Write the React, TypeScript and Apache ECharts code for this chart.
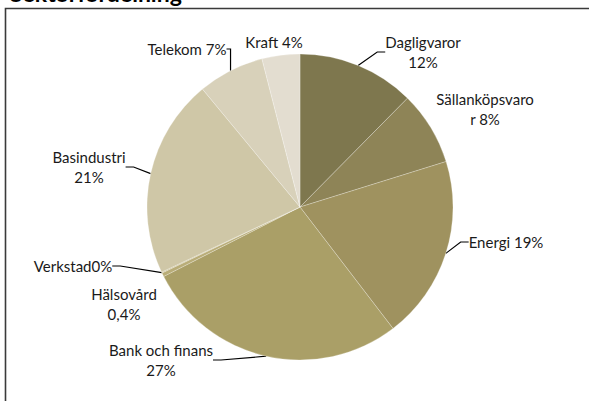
import React, { useEffect, useRef } from "react";
import * as echarts from "echarts";

const categories = ["Dagligvaror", "Sällanköpsvaror", "Energi", "Bank och finans", "Hälsovård", "Verkstad", "Basindustri", "Telekom", "Kraft"];
const values = [12.4, 7.8, 19.4, 27.9, 0.4, 0.1, 21.0, 7.0, 4.0];
const labelTexts = ["Dagligvaror\n12%", "Sällanköpsvaro\nr 8%", "Energi 19%", "Bank och finans\n27%", "Hälsovård\n0,4%", "Verkstad0%", "Basindustri\n21%", "Telekom 7%", "Kraft 4%"];
const title = "Sektorfördelning";

// styling / layout (not data)
const colors = ["#7e774e", "#8e8457", "#9f925f", "#aa9f67", "#b9ad78", "#c4b98a", "#cfc7a7", "#d8d1ba", "#e3ddd0"];
const showLine = [true, false, true, true, false, true, true, true, false];
const labelCenters: [number, number][] = [
  [423, 52], [485, 109], [506, 242], [161, 360], [124, 304], [73, 266], [89, 167], [187, 49], [274, 42],
];

export default function App() {
  const ref = useRef<HTMLDivElement>(null);
  useEffect(() => {
    if (!ref.current) return;
    const chart = echarts.init(ref.current, null, { renderer: "svg" });
    chart.setOption({
      animation: false,
      backgroundColor: "#ffffff",
      graphic: [
        {
          type: "rect",
          shape: { x: 5.5, y: 8.5, width: 620, height: 430 },
          style: { fill: "none", stroke: "#3a3a3a", lineWidth: 1.6 },
          silent: true,
        },
        {
          type: "text",
          x: 10,
          y: -19,
          style: { text: title, font: "bold 23px Lato, 'Open Sans', sans-serif", fill: "#000" },
        },
      ],
      series: [
        {
          type: "pie",
          center: [300, 207],
          radius: 153,
          startAngle: 90,
          clockwise: true,
          avoidLabelOverlap: false,
          minShowLabelAngle: 0,
          itemStyle: { borderColor: "rgba(255,255,255,0.5)", borderWidth: 0.5 },
          label: {
            show: true,
            position: "outside",
            fontFamily: "Lato, 'Open Sans', sans-serif",
            fontSize: 15,
            color: "#1a1a1a",
            lineHeight: 20,
            align: "center",
          },
          labelLine: { show: true, length: 14, length2: 8, lineStyle: { color: "#000", width: 1.2 } },
          labelLayout: (p: any) => {
            const c = labelCenters[p.dataIndex];
            return {
              x: c[0],
              y: c[1],
              align: "center",
              verticalAlign: "middle",
              hideOverlap: false,
              moveOverlap: null,
            };
          },
          data: categories.map((name, i) => ({
            name,
            value: values[i],
            itemStyle: { color: colors[i] },
            label: { formatter: labelTexts[i] },
            labelLine: { show: showLine[i] },
          })),
        },
      ],
    });
    return () => chart.dispose();
  }, []);
  return <div ref={ref} style={{ position: "fixed", left: 0, top: 0, width: 589, height: 401 }} />;
}
